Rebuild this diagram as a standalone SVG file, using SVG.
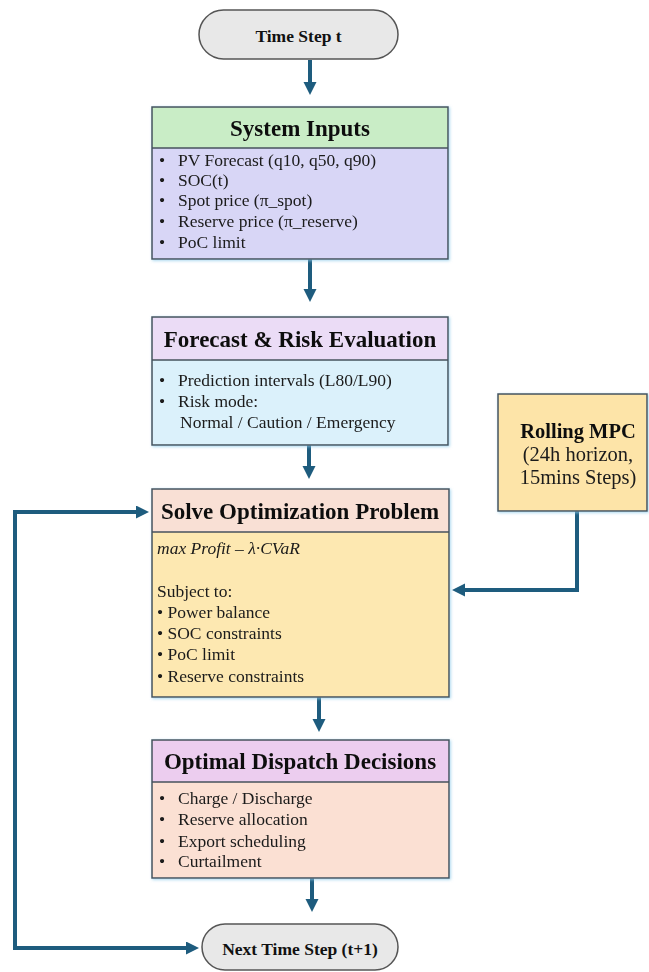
<svg xmlns="http://www.w3.org/2000/svg" width="649" height="972" viewBox="0 0 649 972">
<style>
text{font-family:"Liberation Serif","Times New Roman",serif;fill:#1a1a1a}
.ttl{font-size:23px;font-weight:bold;text-anchor:middle;fill:#111}
.pill{font-size:17.5px;font-weight:bold;text-anchor:middle;fill:#111}
.b{font-size:17.5px}
.it{font-style:italic}
.box{stroke:#46525c;stroke-width:1.5}
.pl{fill:#e8e8e8;stroke:#555;stroke-width:1.5}
.con{fill:none;stroke:#1e5c7e;stroke-width:4}
.mt{font-size:20.5px;font-weight:bold;text-anchor:middle;fill:#111}
.mb{font-size:20.5px;text-anchor:middle}
</style>
<defs>
<marker id="ah" markerUnits="userSpaceOnUse" markerWidth="14" markerHeight="14" refX="8" refY="6.5" orient="auto-start-reverse" viewBox="0 0 14 14">
<path d="M0,0 L13,6.5 L0,13 z" fill="#1e5c7e"/>
</marker>
<filter id="gl" x="-5%" y="-5%" width="110%" height="110%">
<feDropShadow dx="1" dy="1" stdDeviation="1.5" flood-color="#8fcbea" flood-opacity="0.8"/>
</filter>
</defs>

<g id="connectors">
<path class="con" d="M310,60 V90" marker-end="url(#ah)"/>
<path class="con" d="M310,259 V297" marker-end="url(#ah)"/>
<path class="con" d="M309,445 V474" marker-end="url(#ah)"/>
<path class="con" d="M319,697 V727" marker-end="url(#ah)"/>
<path class="con" d="M312,878 V907" marker-end="url(#ah)"/>
<path class="con" d="M577,511 V590 H457" marker-end="url(#ah)"/>
<path class="con" d="M194,948 H15 V512 H144" marker-start="url(#ah)" marker-end="url(#ah)"/>
</g>

<g id="time-step">
<rect class="pl" x="199" y="10" width="199" height="49" rx="24.5"/>
<text class="pill" x="298.5" y="42">Time Step t</text>
</g>

<g id="system-inputs" filter="url(#gl)">
<rect x="152" y="107" width="296" height="41" fill="#c9edc6"/>
<rect x="152" y="148" width="296" height="111" fill="#d8d6f6"/>
<rect class="box" x="152" y="107" width="296" height="152" fill="none"/>
<line class="box" x1="152" y1="148" x2="448" y2="148"/>
<text class="ttl" x="300" y="136">System Inputs</text>
<g class="b">
<text x="159" y="166">•</text><text x="178" y="166">PV Forecast (q10, q50, q90)</text>
<text x="159" y="186">•</text><text x="178" y="186">SOC(t)</text>
<text x="159" y="206">•</text><text x="178" y="206">Spot price (π_spot)</text>
<text x="159" y="227">•</text><text x="178" y="227">Reserve price (π_reserve)</text>
<text x="159" y="248">•</text><text x="178" y="248">PoC limit</text>
</g>
</g>

<g id="forecast-risk" filter="url(#gl)">
<rect x="152" y="317" width="296" height="43" fill="#ebdcf6"/>
<rect x="152" y="360" width="296" height="85" fill="#dbf1fb"/>
<rect class="box" x="152" y="317" width="296" height="128" fill="none"/>
<line class="box" x1="152" y1="360" x2="448" y2="360"/>
<text class="ttl" x="300" y="347">Forecast &amp; Risk Evaluation</text>
<g class="b">
<text x="159" y="386">•</text><text x="178" y="386">Prediction intervals (L80/L90)</text>
<text x="159" y="407">•</text><text x="178" y="407">Risk mode:</text>
<text x="180" y="428">Normal / Caution / Emergency</text>
</g>
</g>

<g id="rolling-mpc" filter="url(#gl)">
<rect class="box" x="498" y="394" width="149" height="117" fill="#fde4a8"/>
<text class="mt" x="578" y="438">Rolling MPC</text>
<text class="mb" x="578" y="461">(24h horizon,</text>
<text class="mb" x="578" y="484">15mins Steps)</text>
</g>

<g id="solve-optimization" filter="url(#gl)">
<rect x="152" y="489" width="297" height="43" fill="#f9e0d5"/>
<rect x="152" y="532" width="297" height="165" fill="#fde8b1"/>
<rect class="box" x="152" y="489" width="297" height="208" fill="none"/>
<line class="box" x1="152" y1="532" x2="449" y2="532"/>
<text class="ttl" x="300" y="519">Solve Optimization Problem</text>
<g class="b">
<text class="it" x="157" y="554">max Profit – λ·CVaR</text>
<text x="157" y="597">Subject to:</text>
<text x="157" y="618">• Power balance</text>
<text x="157" y="639">• SOC constraints</text>
<text x="157" y="660">• PoC limit</text>
<text x="157" y="682">• Reserve constraints</text>
</g>
</g>

<g id="dispatch-decisions" filter="url(#gl)">
<rect x="152" y="740" width="297" height="42" fill="#eccdef"/>
<rect x="152" y="782" width="297" height="96" fill="#fbe0d3"/>
<rect class="box" x="152" y="740" width="297" height="138" fill="none"/>
<line class="box" x1="152" y1="782" x2="449" y2="782"/>
<text class="ttl" x="300" y="769">Optimal Dispatch Decisions</text>
<g class="b">
<text x="159" y="804">•</text><text x="178" y="804">Charge / Discharge</text>
<text x="159" y="825">•</text><text x="178" y="825">Reserve allocation</text>
<text x="159" y="847">•</text><text x="178" y="847">Export scheduling</text>
<text x="159" y="867">•</text><text x="178" y="867">Curtailment</text>
</g>
</g>

<g id="next-time-step">
<rect class="pl" x="202" y="924" width="196" height="46" rx="23"/>
<text class="pill" x="300" y="955">Next Time Step (t+1)</text>
</g>
</svg>
